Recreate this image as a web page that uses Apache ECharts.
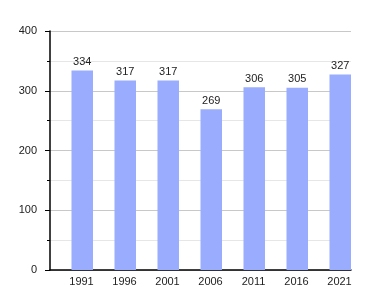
<!DOCTYPE html>
<html><head><meta charset="utf-8">
<script src="https://cdn.jsdelivr.net/npm/echarts@6/dist/echarts.min.js"></script>
<style>html,body{margin:0;padding:0;background:#fff}#c{width:380px;height:300px}</style>
</head><body><div id="c"></div>
<script>
const categories = ['1991','1996','2001','2006','2011','2016','2021'];
const population = [334, 317, 317, 269, 306, 305, 327];
const yTicks = [0, 100, 200, 300, 400];

const chart = echarts.init(document.getElementById('c'), null, {renderer: 'canvas'});
const font = 'Liberation Sans, Arial, sans-serif';
chart.setOption({
  animation: false,
  backgroundColor: '#fff',
  grid: {left: 50, right: 29, top: 31, bottom: 30, containLabel: false},
  xAxis: {
    type: 'category', data: categories, boundaryGap: true,
    axisLine: {show: true, lineStyle: {color: '#000', width: 1.5}},
    axisTick: {show: false},
    axisLabel: {color: '#222', fontFamily: font, fontSize: 11, margin: 6, padding: [0,0,0,20]},
    splitLine: {show: false}
  },
  yAxis: {
    type: 'value', min: yTicks[0], max: yTicks[yTicks.length-1], interval: 100,
    axisLine: {show: true, lineStyle: {color: '#000', width: 1.5}},
    axisTick: {show: true, length: 5, lineStyle: {color: '#000'}},
    minorTick: {show: true, splitNumber: 2, length: 3, lineStyle: {color: '#000'}},
    axisLabel: {color: '#222', fontFamily: font, fontSize: 11, margin: 13},
    splitLine: {show: true, lineStyle: {color: '#c8c8c8', width: 1}},
    minorSplitLine: {show: true, lineStyle: {color: '#e6e6e6', width: 1}}
  },
  series: [
    {type: 'bar', data: categories.map(() => 0), barGap: '0%', barCategoryGap: '0%', itemStyle: {color: 'rgba(0,0,0,0)'}, silent: true},
    {type: 'bar', data: population, barGap: '0%', barCategoryGap: '0%',
     itemStyle: {color: '#9aacfd'},
     label: {show: true, position: 'top', color: '#222', fontFamily: font, fontSize: 11, distance: 3}}
  ]
});
</script></body></html>
